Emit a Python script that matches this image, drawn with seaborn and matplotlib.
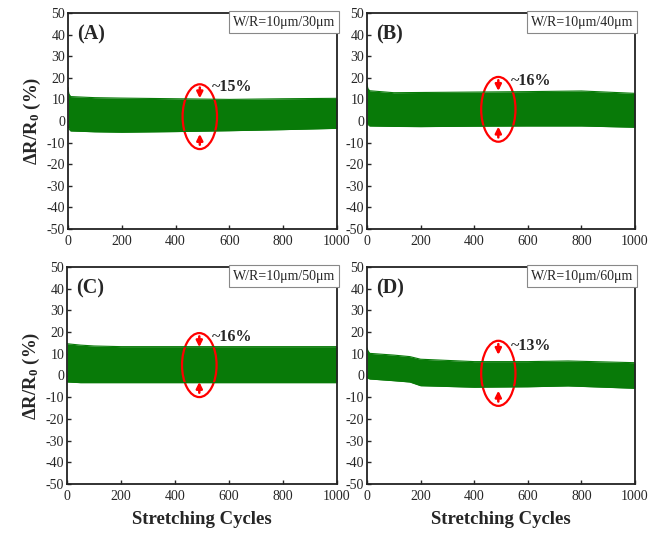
import matplotlib
matplotlib.use("Agg")
import matplotlib.pyplot as plt
from matplotlib.patches import Ellipse
import seaborn as sns
import pandas as pd

# envelope of the resistance signal
cycles_a = [0, 3, 10, 100, 200, 400, 600, 800, 1000]
upper_a = [15.6, 12.5, 11.3, 10.8, 10.6, 10.3, 10.0, 10.3, 10.5]
lower_a = [-1.9, -3.5, -4.6, -5.0, -5.2, -4.9, -4.5, -4.0, -3.4]

cycles_b = [0, 3, 10, 100, 200, 400, 600, 800, 1000]
upper_b = [17.4, 15.0, 14.0, 13.1, 13.2, 13.4, 13.6, 13.9, 12.8]
lower_b = [-0.3, -1.5, -2.3, -2.5, -2.6, -2.4, -2.3, -2.3, -2.9]

cycles_c = [0, 3, 50, 100, 200, 400, 600, 800, 1000]
upper_c = [14.8, 14.6, 14.0, 13.6, 13.3, 13.3, 13.3, 13.3, 13.3]
lower_c = [-2.8, -3.0, -3.3, -3.3, -3.3, -3.3, -3.3, -3.3, -3.3]

cycles_d = [0, 3, 10, 100, 160, 200, 400, 600, 750, 1000]
upper_d = [12.7, 11.5, 10.2, 9.4, 8.7, 7.5, 6.4, 6.4, 6.7, 5.9]
lower_d = [-0.5, -1.2, -1.6, -2.4, -3.0, -4.7, -5.4, -5.2, -4.8, -5.9]

panel_labels = ["(A)", "(B)", "(C)", "(D)"]
wr_labels = ["W/R=10μm/30μm", "W/R=10μm/40μm", "W/R=10μm/50μm", "W/R=10μm/60μm"]
change_labels = ["~15%", "~16%", "~16%", "~13%"]
# ellipse centre / height (y) and text height for each panel
ellipse_y = [2.0, 5.4, 4.8, 1.0]
ellipse_h = [30, 30, 29.5, 30]
text_y = [15.7, 18.5, 17.7, 13.6]

sns.set_theme(style="ticks")
plt.rcParams["font.family"] = ["Liberation Serif", "DejaVu Serif"]
plt.rcParams["mathtext.fontset"] = "custom"
plt.rcParams["mathtext.rm"] = "Liberation Serif"
plt.rcParams["mathtext.bf"] = "Liberation Serif:bold"
plt.rcParams["axes.unicode_minus"] = False

fig = plt.figure(figsize=(6.6, 5.33), dpi=100)
boxes = [
    [68 / 660, 1 - 229 / 533, 269 / 660, 216 / 533],
    [367 / 660, 1 - 229 / 533, 268 / 660, 216 / 533],
    [67 / 660, 1 - 484 / 533, 270 / 660, 217 / 533],
    [367 / 660, 1 - 484 / 533, 268 / 660, 217 / 533],
]

data = [
    (cycles_a, upper_a, lower_a),
    (cycles_b, upper_b, lower_b),
    (cycles_c, upper_c, lower_c),
    (cycles_d, upper_d, lower_d),
]

green = "#087a08"

for i, (cyc, up, lo) in enumerate(data):
    ax = fig.add_axes(boxes[i])
    df = pd.DataFrame({"cycle": cyc, "upper": up, "lower": lo})
    ax.fill_between(df["cycle"], df["lower"], df["upper"], color=green, lw=0)
    sns.lineplot(data=df, x="cycle", y="upper", ax=ax, color=green, lw=0.8)
    sns.lineplot(data=df, x="cycle", y="lower", ax=ax, color=green, lw=0.8)

    ax.set_xlim(0, 1000)
    ax.set_ylim(-50, 50)
    ax.set_xticks(range(0, 1001, 200))
    ax.set_yticks(range(-50, 51, 10))
    ax.tick_params(direction="in", length=3, width=1, labelsize=10)
    ax.tick_params(axis="x", pad=4)
    ax.tick_params(axis="y", pad=2)
    for s in ax.spines.values():
        s.set_linewidth(1.3)
        s.set_color("#222222")

    if i % 2 == 0:
        ax.set_ylabel(r"$\mathbf{\Delta R/R_0}$ (%)", fontsize=13.5, fontweight="bold", labelpad=3)
    else:
        ax.set_ylabel("")
    if i >= 2:
        ax.set_xlabel("Stretching Cycles", fontsize=13.5, fontweight="bold", labelpad=6)
    else:
        ax.set_xlabel("")

    ax.text(0.035, 0.9, panel_labels[i], transform=ax.transAxes, fontsize=14.5,
            fontweight="bold", ha="left", va="center")
    ax.text(0.993, 0.988, wr_labels[i], transform=ax.transAxes, fontsize=10,
            ha="right", va="top",
            bbox=dict(boxstyle="square,pad=0.3", fc="white", ec="#888888", lw=0.8))

    cy, h = ellipse_y[i], ellipse_h[i]
    ax.add_patch(Ellipse((490, cy), 128, h, fill=False, ec="red", lw=1.6))
    ax.annotate("", xy=(490, cy + h / 2 - 6.5), xytext=(490, cy + h / 2 - 1.5),
                arrowprops=dict(arrowstyle="-|>", color="red", lw=1.8, mutation_scale=9,
                                shrinkA=0, shrinkB=0))
    ax.annotate("", xy=(490, cy - h / 2 + 7.0), xytext=(490, cy - h / 2 + 2.0),
                arrowprops=dict(arrowstyle="-|>", color="red", lw=1.8, mutation_scale=9,
                                shrinkA=0, shrinkB=0))
    ax.text(535, text_y[i], change_labels[i], fontsize=11.5, fontweight="bold",
            ha="left", va="center")

fig.savefig("out.png", dpi=100)
